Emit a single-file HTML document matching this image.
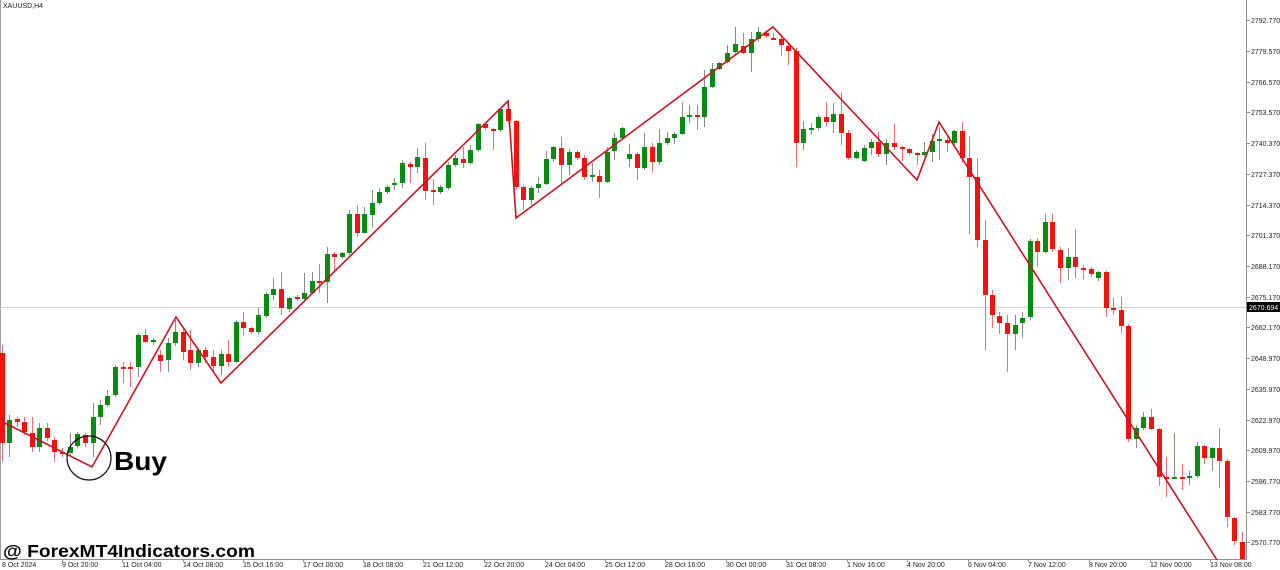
<!DOCTYPE html>
<html>
<head>
<meta charset="utf-8">
<style>
html,body{margin:0;padding:0;background:#fff;}
svg{display:block;}
text{font-family:"Liberation Sans",Arial,sans-serif;}
</style>
</head>
<body>
<svg width="1280" height="570" viewBox="0 0 1280 570" xmlns="http://www.w3.org/2000/svg">
<rect width="1280" height="570" fill="#fff"/>
<!-- borders -->
<line x1="0.5" y1="0" x2="0.5" y2="559" stroke="#a0a0a0" stroke-width="1"/>
<line x1="1246.5" y1="0" x2="1246.5" y2="560" stroke="#909090" stroke-width="1"/>
<line x1="0" y1="559.5" x2="1247" y2="559.5" stroke="#909090" stroke-width="1"/>
<!-- current price line -->
<line x1="0" y1="307.5" x2="1246" y2="307.5" stroke="#cfcfcf" stroke-width="1"/>

<text x="3" y="8" font-size="7" fill="#222">XAUUSD,H4</text>

<!-- green wicks -->
<path shape-rendering="crispEdges" stroke="#8a8a8a" stroke-width="1" fill="none" d="M9.5 415V457M39.5 423V452M70.5 433V457M77.5 432V448M93.5 403V457M100.5 400V425M107.5 390V407M115.5 365V397M138.5 333V377M153.5 338V345M168.5 338V372M175.5 320V346M198.5 348V367M221.5 350V375M236.5 320V363M258.5 308V335M266.5 292V318M273.5 278V300M289.5 297V312M304.5 273V300M312.5 272V294M327.5 247V303M342.5 252V259M349.5 210V255M364.5 207V233M372.5 190V227M379.5 188V205M387.5 185V194M394.5 178V190M402.5 160V188M417.5 148V173M440.5 185V194M448.5 162V190M455.5 155V167M470.5 145V165M478.5 123V152M500.5 108V132M531.5 186V205M538.5 177V193M546.5 151V185M553.5 146V162M569.5 149V175M592.5 163V182M607.5 147V183M614.5 133V160M622.5 127V140M629.5 144V167M644.5 133V170M659.5 129V165M667.5 132V145M674.5 132V144M682.5 102V135M689.5 105V123M704.5 70V127M712.5 63V88M719.5 62V70M727.5 45V63M735.5 27V54M751.5 32V72M758.5 27V42M803.5 121V150M811.5 123V135M818.5 115V130M833.5 103V133M856.5 150V159M864.5 145V162M871.5 139V155M886.5 139V165M924.5 142V157M932.5 134V162M939.5 127V160M954.5 130V145M1015.5 315V350M1022.5 312V338M1030.5 239V320M1045.5 214V253M1068.5 248V280M1098.5 271V281M1136.5 425V448M1143.5 412V430M1174.5 433V479M1189.5 471V485M1197.5 442V478M1212.5 447V471"/>
<!-- red wicks -->
<path shape-rendering="crispEdges" stroke="#ee7070" stroke-width="1" fill="none" d="M2.5 345V462M17.5 417V427M24.5 417V435M32.5 417V452M47.5 423V441M54.5 437V462M62.5 448V457M85.5 433V447M123.5 362V383M130.5 362V387M145.5 329V343M160.5 350V372M183.5 328V360M190.5 330V370M205.5 347V363M213.5 350V372M228.5 340V367M243.5 312V335M251.5 327V334M281.5 272V315M297.5 295V301M319.5 264V293M334.5 252V272M357.5 205V237M410.5 162V183M425.5 143V200M433.5 179V205M463.5 147V168M485.5 123V130M493.5 128V150M508.5 103V123M516.5 120V190M523.5 185V210M561.5 137V183M577.5 150V160M584.5 155V180M599.5 170V198M637.5 152V180M652.5 143V173M697.5 105V130M743.5 33V54M766.5 31V38M773.5 33V40M781.5 36V56M788.5 43V65M796.5 48V167M826.5 102V127M841.5 92V145M848.5 130V160M878.5 132V157M894.5 124V150M902.5 146V161M909.5 148V155M917.5 152V165M947.5 137V152M962.5 122V163M969.5 136V234M977.5 158V247M985.5 220V350M992.5 290V328M999.5 312V334M1007.5 315V372M1037.5 238V267M1052.5 214V252M1060.5 247V283M1075.5 229V278M1083.5 265V279M1091.5 267V277M1106.5 271V317M1113.5 298V315M1121.5 297V333M1128.5 324V442M1151.5 409V430M1159.5 428V486M1166.5 457V497M1182.5 464V490M1204.5 445V464M1219.5 428V488M1227.5 459V527M1234.5 517V545M1242.5 532V559"/>
<!-- green bodies -->
<path shape-rendering="crispEdges" fill="#0a8a14" d="M7 420h5v23h-5zM37 428h5v19h-5zM68 447h5v6h-5zM75 434h5v12h-5zM91 417h5v26h-5zM98 405h5v12h-5zM105 396h5v9h-5zM113 367h5v28h-5zM136 335h5v32h-5zM151 340h5v2h-5zM166 343h5v17h-5zM173 332h5v11h-5zM196 350h5v13h-5zM219 354h5v12h-5zM234 322h5v40h-5zM256 315h5v17h-5zM264 294h5v22h-5zM271 289h5v6h-5zM287 298h5v11h-5zM302 293h5v6h-5zM310 281h5v12h-5zM325 254h5v28h-5zM340 253h5v4h-5zM347 214h5v39h-5zM362 214h5v19h-5zM370 203h5v12h-5zM377 192h5v11h-5zM385 187h5v5h-5zM392 183h5v2h-5zM400 163h5v20h-5zM415 157h5v10h-5zM438 187h5v5h-5zM446 165h5v23h-5zM453 158h5v7h-5zM468 150h5v13h-5zM476 124h5v26h-5zM498 109h5v21h-5zM529 188h5v12h-5zM536 184h5v4h-5zM544 159h5v25h-5zM551 147h5v12h-5zM567 152h5v13h-5zM590 175h5v2h-5zM605 152h5v30h-5zM612 138h5v13h-5zM620 128h5v10h-5zM627 154h5v5h-5zM642 147h5v21h-5zM657 143h5v19h-5zM665 138h5v5h-5zM672 134h5v4h-5zM680 117h5v17h-5zM687 115h5v2h-5zM702 87h5v30h-5zM710 69h5v18h-5zM717 63h5v6h-5zM725 53h5v9h-5zM733 44h5v8h-5zM749 39h5v14h-5zM756 32h5v7h-5zM801 129h5v14h-5zM809 128h5v2h-5zM816 117h5v11h-5zM831 114h5v8h-5zM854 152h5v6h-5zM862 148h5v13h-5zM869 142h5v6h-5zM884 143h5v11h-5zM922 152h5v3h-5zM930 141h5v11h-5zM937 139h5v2h-5zM952 131h5v12h-5zM1013 325h5v9h-5zM1020 318h5v5h-5zM1028 241h5v76h-5zM1043 222h5v30h-5zM1066 257h5v11h-5zM1096 272h5v6h-5zM1134 428h5v11h-5zM1141 417h5v11h-5zM1172 477h5v2h-5zM1187 476h5v2h-5zM1195 446h5v30h-5zM1210 448h5v10h-5z"/>
<!-- red bodies -->
<path shape-rendering="crispEdges" fill="#f21212" d="M0 353h5v90h-5zM15 419h5v3h-5zM22 422h5v10h-5zM30 433h5v14h-5zM45 428h5v10h-5zM52 440h5v12h-5zM60 452h5v2h-5zM83 435h5v8h-5zM121 367h5v2h-5zM128 367h5v2h-5zM143 335h5v7h-5zM158 355h5v6h-5zM181 332h5v20h-5zM188 350h5v13h-5zM203 350h5v7h-5zM211 357h5v9h-5zM226 354h5v8h-5zM241 322h5v6h-5zM249 328h5v4h-5zM279 289h5v19h-5zM295 297h5v2h-5zM317 281h5v2h-5zM332 254h5v3h-5zM355 214h5v19h-5zM408 164h5v3h-5zM423 158h5v33h-5zM431 190h5v2h-5zM461 159h5v4h-5zM483 124h5v4h-5zM491 129h5v2h-5zM506 109h5v12h-5zM514 121h5v66h-5zM521 187h5v13h-5zM559 148h5v17h-5zM575 152h5v6h-5zM582 158h5v19h-5zM597 176h5v6h-5zM635 154h5v14h-5zM650 147h5v15h-5zM695 115h5v2h-5zM741 46h5v7h-5zM764 33h5v3h-5zM771 38h5v2h-5zM779 39h5v6h-5zM786 46h5v5h-5zM794 51h5v92h-5zM824 117h5v5h-5zM839 114h5v19h-5zM846 133h5v25h-5zM876 142h5v12h-5zM892 143h5v4h-5zM900 147h5v2h-5zM907 149h5v4h-5zM915 153h5v2h-5zM945 140h5v3h-5zM960 131h5v27h-5zM967 158h5v19h-5zM975 177h5v63h-5zM983 240h5v55h-5zM990 295h5v20h-5zM997 316h5v7h-5zM1005 323h5v11h-5zM1035 241h5v11h-5zM1050 222h5v27h-5zM1058 250h5v18h-5zM1073 257h5v10h-5zM1081 268h5v2h-5zM1089 269h5v5h-5zM1104 272h5v36h-5zM1111 308h5v2h-5zM1119 310h5v16h-5zM1126 326h5v113h-5zM1149 417h5v12h-5zM1157 429h5v48h-5zM1164 477h5v2h-5zM1180 477h5v2h-5zM1202 446h5v12h-5zM1217 448h5v13h-5zM1225 461h5v56h-5zM1232 518h5v23h-5zM1240 542h5v17h-5z"/>

<!-- zigzag -->
<polyline fill="none" stroke="#c8161e" stroke-width="1.6" stroke-linejoin="miter" points="3,422 92,467 176,317 221,383 508,101 516,218 773,27 917,180 939,122 1217,560"/>

<!-- buy circle & label -->
<circle cx="89" cy="458" r="22" fill="none" stroke="#111" stroke-width="1.2"/>
<text x="114" y="470" font-size="26" font-weight="bold" fill="#000" textLength="53" lengthAdjust="spacingAndGlyphs">Buy</text>

<!-- watermark -->
<text x="3" y="557" font-size="17.5" font-weight="bold" fill="#000" textLength="252" lengthAdjust="spacingAndGlyphs">@ ForexMT4Indicators.com</text>

<!-- right axis ticks and labels -->
<g stroke="#909090" stroke-width="1" shape-rendering="crispEdges">
<path d="M1247 20.5h3M1247 51.5h3M1247 82.5h3M1247 112.5h3M1247 143.5h3M1247 174.5h3M1247 205.5h3M1247 235.5h3M1247 266.5h3M1247 297.5h3M1247 327.5h3M1247 358.5h3M1247 389.5h3M1247 420.5h3M1247 450.5h3M1247 481.5h3M1247 512.5h3M1247 542.5h3"/>
</g>
<g font-size="7" fill="#222">
<text x="1251" y="23">2792.770</text>
<text x="1251" y="54">2779.570</text>
<text x="1251" y="85">2766.570</text>
<text x="1251" y="115">2753.570</text>
<text x="1251" y="146">2740.370</text>
<text x="1251" y="177">2727.370</text>
<text x="1251" y="208">2714.370</text>
<text x="1251" y="238">2701.370</text>
<text x="1251" y="269">2688.170</text>
<text x="1251" y="300">2675.170</text>
<text x="1251" y="330">2662.170</text>
<text x="1251" y="361">2648.970</text>
<text x="1251" y="392">2635.970</text>
<text x="1251" y="423">2622.970</text>
<text x="1251" y="453">2609.970</text>
<text x="1251" y="484">2596.770</text>
<text x="1251" y="515">2583.770</text>
<text x="1251" y="545">2570.770</text>
</g>
<rect x="1247" y="302" width="33" height="10" fill="#000"/>
<text x="1249" y="310" font-size="7" fill="#fff">2670.694</text>

<!-- bottom axis ticks and labels -->
<path stroke="#909090" stroke-width="1" shape-rendering="crispEdges" d="M62.5 559v3M122.5 559v3M183.5 559v3M243.5 559v3M303.5 559v3M363.5 559v3M423.5 559v3M484.5 559v3M545.5 559v3M605.5 559v3M665.5 559v3M726.5 559v3M786.5 559v3M847.5 559v3M907.5 559v3M968.5 559v3M1028.5 559v3M1089.5 559v3M1150.5 559v3M1210.5 559v3"/>
<g font-size="7" fill="#222">
<text x="2" y="567">8 Oct 2024</text>
<text x="62" y="567">9 Oct 20:00</text>
<text x="122" y="567">11 Oct 04:00</text>
<text x="183" y="567">14 Oct 08:00</text>
<text x="243" y="567">15 Oct 16:00</text>
<text x="303" y="567">17 Oct 00:00</text>
<text x="363" y="567">18 Oct 08:00</text>
<text x="423" y="567">21 Oct 12:00</text>
<text x="484" y="567">22 Oct 20:00</text>
<text x="545" y="567">24 Oct 04:00</text>
<text x="605" y="567">25 Oct 12:00</text>
<text x="665" y="567">28 Oct 16:00</text>
<text x="726" y="567">30 Oct 00:00</text>
<text x="786" y="567">31 Oct 08:00</text>
<text x="847" y="567">1 Nov 16:00</text>
<text x="907" y="567">4 Nov 20:00</text>
<text x="968" y="567">6 Nov 04:00</text>
<text x="1028" y="567">7 Nov 12:00</text>
<text x="1089" y="567">8 Nov 20:00</text>
<text x="1150" y="567">12 Nov 00:00</text>
<text x="1210" y="567">13 Nov 08:00</text>
</g>
</svg>
</body>
</html>
